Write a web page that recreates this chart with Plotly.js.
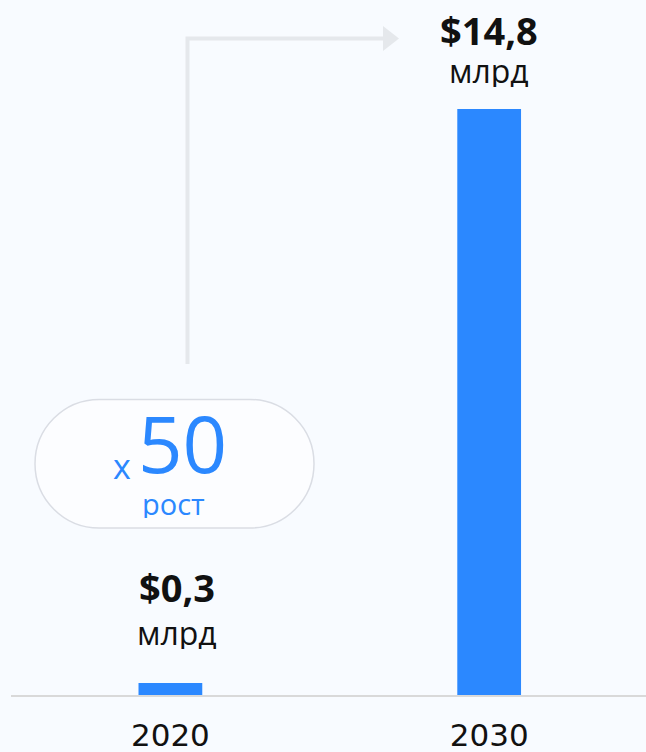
<!DOCTYPE html>
<html>
<head>
<meta charset="utf-8">
<script src="https://cdn.plot.ly/plotly-3.0.1.min.js"></script>
<style>html,body{margin:0;padding:0;background:#F8FBFF;}#chart{width:646px;height:752px;}</style>
</head>
<body>
<div id="chart"></div>
<script>
// ---- data ----
const years = ['2020', '2030'];
const values = [0.3, 14.8];
const valueUnit = 'млрд';
const growthFactor = 50;
const growthLabel = 'рост';

// ---- style / layout ----
const W = 646, H = 752;
const M = {l: 11, r: 0, t: 20, b: 57};
const plotW = W - M.l - M.r, plotH = H - M.t - M.b;
const px = x => (x - M.l) / plotW;          // pixel -> paper x
const py = y => (H - M.b - y) / plotH;      // pixel -> paper y
const BLUE = '#2B88FF';
const GREY = '#E5E8EC';
const FONT = 'Open Sans, Noto Sans, sans-serif';
const TICKFONT = 'DejaVu Sans, Open Sans, sans-serif';

function fmt(v) { return '$' + v.toFixed(1).replace('.', ','); }

function pill(x0, y0, x1, y1) {
  const r = (y1 - y0) / 2, k = 0.5523 * r;
  const P = (x, y) => px(x).toFixed(5) + ',' + py(y).toFixed(5);
  return 'M' + P(x0 + r, y0) + ' L' + P(x1 - r, y0) +
    ' C' + P(x1 - r + k, y0) + ' ' + P(x1, y0 + r - k) + ' ' + P(x1, y0 + r) +
    ' C' + P(x1, y0 + r + k) + ' ' + P(x1 - r + k, y1) + ' ' + P(x1 - r, y1) +
    ' L' + P(x0 + r, y1) +
    ' C' + P(x0 + r - k, y1) + ' ' + P(x0, y0 + r + k) + ' ' + P(x0, y0 + r) +
    ' C' + P(x0, y0 + r - k) + ' ' + P(x0 + r - k, y0) + ' ' + P(x0 + r, y0) + ' Z';
}
const Pp = (x, y) => px(x).toFixed(5) + ',' + py(y).toFixed(5);

const labelShift = [96, 79];
const unitShift = [51, 39];
const labelXShift = [7, 0];

const annotations = [];
years.forEach((yr, i) => {
  annotations.push({x: i, y: values[i], xref: 'x', yref: 'y', text: '<b>' + fmt(values[i]) + '</b>',
    showarrow: false, yshift: labelShift[i], xshift: labelXShift[i],
    yanchor: 'middle', xanchor: 'center', height: 42,
    font: {family: FONT, size: 38, color: '#111111'}});
  annotations.push({x: i, y: values[i], xref: 'x', yref: 'y', text: valueUnit,
    showarrow: false, yshift: unitShift[i], xshift: labelXShift[i],
    yanchor: 'middle', xanchor: 'center', height: 34,
    font: {family: FONT, size: 32, color: '#111111'}});
});
annotations.push({x: px(133), y: py(466), xref: 'paper', yref: 'paper', text: 'x',
  showarrow: false, xanchor: 'right', yanchor: 'middle', font: {family: FONT, size: 34, color: BLUE}});
annotations.push({x: px(182), y: py(443), xref: 'paper', yref: 'paper', text: String(growthFactor),
  showarrow: false, xanchor: 'center', yanchor: 'middle', font: {family: FONT, size: 78, color: BLUE}, height: 62});
annotations.push({x: px(173), y: py(503), xref: 'paper', yref: 'paper', text: growthLabel,
  showarrow: false, xanchor: 'center', yanchor: 'middle', height: 30,
  font: {family: FONT, size: 29, color: BLUE}});

const shapes = [
  {type: 'path', xref: 'paper', yref: 'paper', path: pill(35, 399.5, 314, 528),
   fillcolor: '#FCFDFF', line: {color: '#DADDE4', width: 1.5}},
  {type: 'path', xref: 'paper', yref: 'paper',
   path: 'M' + Pp(187.5, 364) + ' L' + Pp(187.5, 38.5) + ' L' + Pp(385, 38.5),
   line: {color: GREY, width: 4}},
  {type: 'path', xref: 'paper', yref: 'paper',
   path: 'M' + Pp(383, 26) + ' L' + Pp(399, 38.5) + ' L' + Pp(383, 51) + ' Z',
   fillcolor: GREY, line: {color: GREY, width: 0}}
];

const trace = {type: 'bar', x: years, y: values, width: 0.2,
  marker: {color: BLUE, line: {width: 0}}, hoverinfo: 'skip'};

const layout = {
  width: W, height: H,
  margin: M,
  paper_bgcolor: '#F8FBFF', plot_bgcolor: '#F8FBFF',
  showlegend: false,
  xaxis: {type: 'category', range: [-0.5, 1.492], showgrid: false, zeroline: false,
    showline: true, linecolor: '#D9D9D9', linewidth: 2,
    ticks: 'outside', ticklen: 12, tickcolor: 'rgba(0,0,0,0)',
    tickfont: {family: TICKFONT, size: 31, color: '#111111'}},
  yaxis: {visible: false, range: [0, 17.05], fixedrange: true},
  shapes: shapes,
  annotations: annotations
};

Plotly.newPlot('chart', [trace], layout, {displayModeBar: false, staticPlot: true});
</script>
</body>
</html>
